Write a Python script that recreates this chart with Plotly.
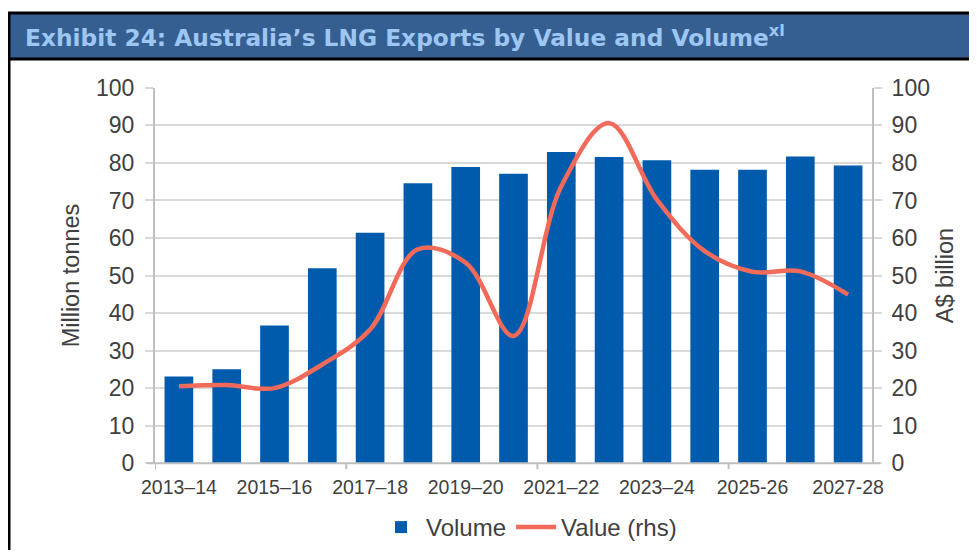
import plotly.graph_objects as go

categories = ["2013–14", "2014–15", "2015–16", "2016–17", "2017–18", "2018–19",
              "2019–20", "2020–21", "2021–22", "2022–23", "2023–24", "2024–25",
              "2025-26", "2026-27", "2027-28"]
volume_mt = [23.1, 25.0, 36.7, 51.9, 61.4, 74.6, 78.9, 77.1, 82.9, 81.6, 80.7, 78.2, 78.2, 81.7, 79.3]
value_bn = [20.5, 20.8, 20.0, 26.3, 35.6, 57.0, 53.4, 33.9, 73.8, 90.6, 70.2, 56.5, 51.0, 51.1, 44.9]
tick_labels = categories[::2]
boundary_ticks = [-0.5, 3.5, 7.5, 11.5]

# the page body has an 8px margin, so the figure starts at (8, 8);
# size it so the page does not overflow the 977x558 window
OFF = 8
W, H = 977 - 2 * OFF, 558 - 2 * OFF
def px_x(x):
    return (x - OFF) / W
def px_y(y):
    return 1 - (y - OFF) / H

BAR = "#005BAC"
LINE = "#F16A5A"
GRID = "#D9D9D9"
AXIS = "#BFBFBF"
TXT = "#404040"
FONT = "Liberation Sans, Arial, sans-serif"

fig = go.Figure()
fig.add_trace(go.Bar(x=categories, y=volume_mt, name="Volume", marker_color=BAR,
                     marker_line_width=0, yaxis="y"))
fig.add_trace(go.Scatter(x=categories, y=value_bn, name="Value (rhs)", mode="lines",
                         line=dict(color=LINE, width=4.5, shape="spline", smoothing=1.0),
                         yaxis="y2"))

x0d, x1d = px_x(155), px_x(872)
y0d, y1d = px_y(464), px_y(88)

fig.update_layout(
    width=W, height=H,
    margin=dict(l=0, r=0, t=0, b=0),
    paper_bgcolor="white", plot_bgcolor="white",
    font=dict(family=FONT, color=TXT),
    bargap=0.40,
    showlegend=True,
    legend=dict(orientation="h", x=px_x(529), xanchor="center", y=px_y(528), yanchor="middle",
                font=dict(size=24, color=TXT), itemwidth=40, traceorder="normal"),
    xaxis=dict(domain=[x0d, x1d], type="category", range=[-0.5, 14.5],
               tickmode="array", tickvals=tick_labels, ticktext=tick_labels,
               ticks="", showgrid=False, showline=False, zeroline=False,
               ticklabelstandoff=10,
               tickfont=dict(size=19.5, color=TXT), automargin=False),
    yaxis=dict(domain=[y0d, y1d], range=[0, 100], dtick=10, showgrid=True,
               gridcolor=GRID, gridwidth=2, showline=True, linecolor=AXIS, linewidth=2,
               ticks="outside", ticklen=8, tickcolor=GRID, tickwidth=2,
               ticklabelstandoff=6,
               tickfont=dict(size=23, color=TXT), zeroline=False, automargin=False,
               title=dict(text="Million tonnes", font=dict(size=23.5, color=TXT), standoff=10)),
    yaxis2=dict(overlaying="y", side="right", range=[0, 100], dtick=10, showgrid=False,
                showline=True, linecolor=AXIS, linewidth=2,
                ticks="outside", ticklen=8, tickcolor=GRID, tickwidth=2,
                ticklabelstandoff=5,
                tickfont=dict(size=23, color=TXT), zeroline=False, automargin=False,
                title=dict(text="A$ billion", font=dict(size=23.5, color=TXT), standoff=8)),
)

shapes = []
# bottom axis line (zero line extended)
shapes.append(dict(type="line", xref="paper", yref="paper", x0=px_x(147), x1=px_x(880),
                   y0=y0d, y1=y0d, line=dict(color=AXIS, width=2)))
for b in boundary_ticks:
    shapes.append(dict(type="line", xref="x", yref="paper", x0=b, x1=b,
                       y0=y0d, y1=px_y(470), line=dict(color=AXIS, width=2)))
# title bar
shapes.append(dict(type="rect", xref="paper", yref="paper", x0=px_x(9), x1=1.01,
                   y0=px_y(59), y1=px_y(13), fillcolor="#365F91", line=dict(width=0),
                   layer="below"))
shapes.append(dict(type="line", xref="paper", yref="paper", x0=px_x(8), x1=1.01,
                   y0=px_y(13), y1=px_y(13), line=dict(color="black", width=3)))
shapes.append(dict(type="line", xref="paper", yref="paper", x0=px_x(8), x1=1.01,
                   y0=px_y(59), y1=px_y(59), line=dict(color="black", width=3)))
shapes.append(dict(type="line", xref="paper", yref="paper", x0=px_x(9), x1=px_x(9),
                   y0=-0.01, y1=px_y(12), line=dict(color="black", width=3)))
fig.update_layout(shapes=shapes)

fig.add_annotation(xref="paper", yref="paper", x=px_x(23), y=px_y(36),
                   xanchor="left", yanchor="middle", showarrow=False,
                   text="<b>Exhibit 24: Australia’s LNG Exports by Value and Volume<sup>xl</sup></b>",
                   font=dict(family="DejaVu Sans", size=23.3, color="#9DC6F2"))

fig.write_html("out.html")
